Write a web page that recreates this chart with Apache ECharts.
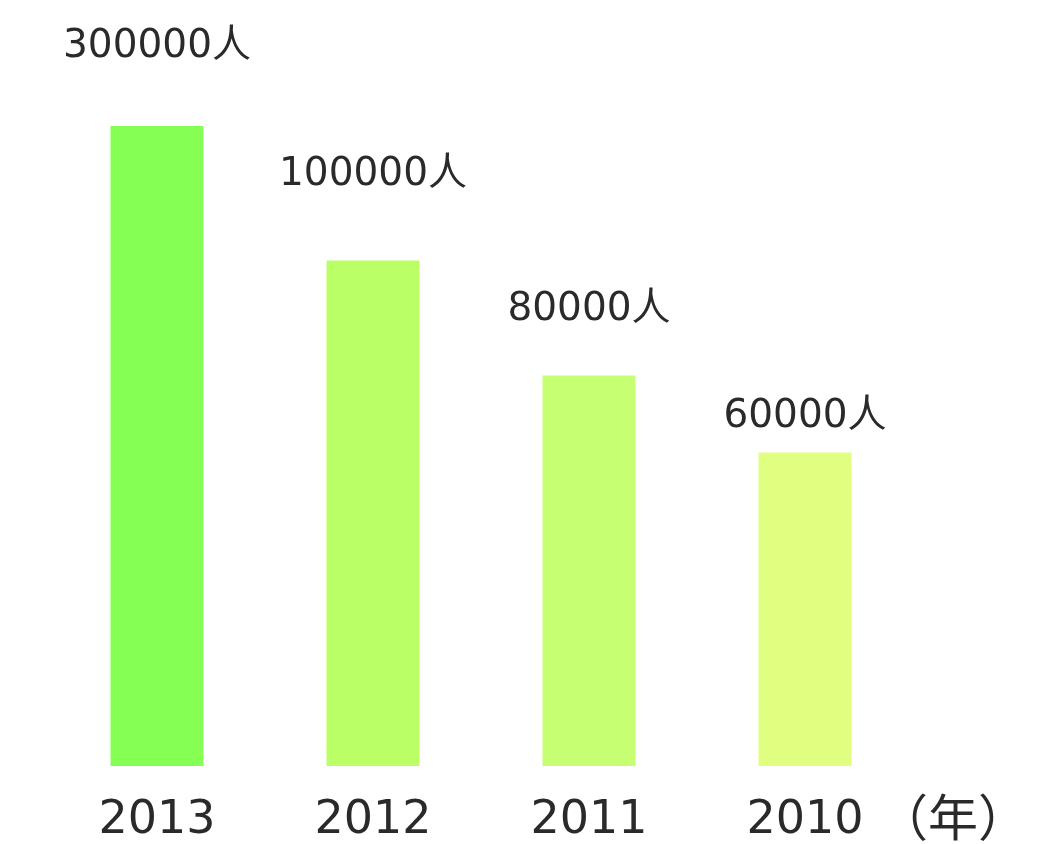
<!DOCTYPE html>
<html>
<head>
<meta charset="utf-8">
<script src="https://cdn.jsdelivr.net/npm/echarts@6/dist/echarts.min.js"></script>
<style>html,body{margin:0;padding:0;background:#fff;}#c{width:1041px;height:844px;}</style>
</head>
<body>
<div id="c"></div>
<script>
// Data
const years = ['2013', '2012', '2011', '2010'];
const people = [300000, 100000, 80000, 60000];          // labelled values
const barHeights = [100, 79, 61, 49];                   // drawn bar heights (relative; chart is not to scale)
const unitLabel = '人';
const axisUnit = '（年）';

// Styles (kept apart from the data)
const barColors = ['#86FF55', '#BBFF66', '#C6FF72', '#E0FF80'];
const labelGaps = [60, 66, 46, 16];
const FONT = '"DejaVu Sans", "Noto Sans CJK SC", sans-serif';

const chart = echarts.init(document.getElementById('c'));
chart.setOption({
  backgroundColor: '#ffffff',
  animation: false,
  grid: { left: 49, right: 128, top: 126, bottom: 78 },
  xAxis: {
    type: 'category',
    data: years,
    axisLine: { show: false },
    axisTick: { show: false },
    axisLabel: { color: '#2a2a2a', fontSize: 46, fontFamily: FONT, margin: 32 }
  },
  yAxis: {
    type: 'value', min: 0, max: 100, show: false,
    splitLine: { show: false }
  },
  series: [{
    type: 'bar',
    barWidth: 93,
    data: barHeights.map((h, i) => ({
      value: h,
      itemStyle: { color: barColors[i] },
      label: { distance: labelGaps[i] }
    })),
    label: {
      show: true,
      position: 'top',
      color: '#2a2a2a',
      fontSize: 39,
      fontFamily: FONT,
      formatter: p => people[p.dataIndex] + unitLabel
    }
  }],
  graphic: [{
    type: 'text',
    left: 878,
    top: 792,
    style: { text: axisUnit, fill: '#2a2a2a', fontSize: 50, fontFamily: 'Noto Sans CJK SC' }
  }]
});
</script>
</body>
</html>
